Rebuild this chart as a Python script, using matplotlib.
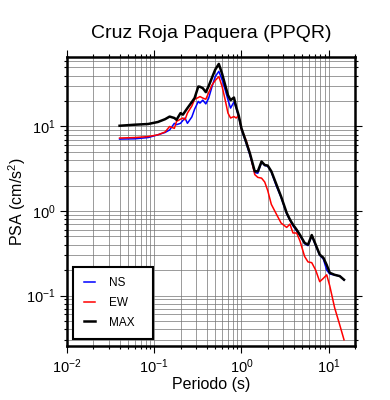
import numpy as np
import matplotlib
matplotlib.use("Agg")
import matplotlib.pyplot as plt
from matplotlib.ticker import LogLocator, LogFormatterMathtext, NullFormatter

plt.rcParams['font.family'] = ['Liberation Sans', 'DejaVu Sans']
plt.rcParams['mathtext.fontset'] = 'custom'
plt.rcParams['mathtext.rm'] = 'Liberation Sans'
plt.rcParams['mathtext.it'] = 'Liberation Sans:italic'

# Periods (s) and spectral values (cm/s^2)
periods = [0.04, 0.06, 0.085, 0.11, 0.133, 0.15, 0.17, 0.18, 0.2, 0.213,
           0.225, 0.24, 0.27, 0.29, 0.32, 0.334, 0.36, 0.39, 0.42, 0.46,
           0.5, 0.55, 0.6, 0.65, 0.7, 0.75, 0.82, 0.87, 0.93, 1.0,
           1.14, 1.25, 1.42, 1.54, 1.7, 1.85, 2.0, 2.2, 2.5, 2.85,
           3.3, 3.6, 3.9, 4.3, 4.7, 5.3, 5.8, 6.4, 7.1, 7.9,
           8.7, 9.5, 10.3, 11.7, 13.4, 15.0]

ns = [7.1, 7.15, 7.4, 7.97, 8.5, 9.1, 10.9, 10.5, 10.9, 11.8,
      12.6, 10.9, 13.0, 16.0, 19.8, 18.9, 20.5, 18.5, 21.5, 29.7,
      38.9, 44.9, 35.6, 27.2, 20.7, 16.5, 19.5, 16.5, 13.0, 9.3,
      6.2, 4.6, 2.85, 2.8, 3.8, 3.45, 3.4, 2.9, 2.0, 1.45,
      0.93, 0.78, 0.67, 0.58, 0.51, 0.41, 0.39, 0.51, 0.39, 0.30,
      0.27, 0.20, 0.18, 0.175, 0.17, 0.153]

ew = [7.3, 7.4, 7.6, 7.97, 8.6, 10.0, 9.5, 11.5, 12.2, 12.6,
      12.0, 14.4, 17.5, 21.0, 22.0, 22.6, 21.7, 21.0, 25.0, 31.0,
      35.0, 38.9, 29.7, 20.7, 14.4, 12.6, 13.1, 12.6, 13.5, 9.3,
      6.7, 4.8, 2.7, 2.5, 2.45, 2.2, 1.75, 1.2, 0.93, 0.72,
      0.64, 0.70, 0.55, 0.55, 0.44, 0.29, 0.25, 0.245, 0.20, 0.146,
      0.16, 0.176, 0.13, 0.072, 0.045, 0.03]

mx = [10.2, 10.5, 10.7, 11.3, 12.2, 13.1, 12.6, 12.0, 14.4, 13.8,
      15.0, 16.5, 19.5, 21.7, 29.7, 29.5, 28.4, 25.5, 30.0, 38.0,
      47.0, 55.0, 42.0, 31.0, 23.5, 20.5, 22.0, 17.0, 13.5, 9.5,
      6.4, 4.8, 2.95, 2.95, 3.85, 3.5, 3.45, 2.95, 2.1, 1.48,
      0.95, 0.79, 0.69, 0.60, 0.52, 0.42, 0.40, 0.52, 0.40, 0.305,
      0.28, 0.23, 0.186, 0.176, 0.17, 0.154]

fig = plt.figure(figsize=(3.9, 4.0), dpi=100)
ax = fig.add_axes([0.172, 0.136, 0.738, 0.721])

ax.plot(periods, ns, color='blue', lw=1.1, label='NS')
ax.plot(periods, ew, color='red', lw=1.1, label='EW')
ax.plot(periods, mx, color='black', lw=1.8, label='MAX')

ax.set_xscale('log')
ax.set_yscale('log')
ax.set_xlim(0.01, 20)
ax.set_ylim(0.0256, 66)

for axis in (ax.xaxis, ax.yaxis):
    axis.set_major_locator(LogLocator(base=10, numticks=10))
    axis.set_minor_locator(LogLocator(base=10, subs=np.arange(2, 10), numticks=10))
    axis.set_major_formatter(LogFormatterMathtext())
    axis.set_minor_formatter(NullFormatter())

ax.grid(True, which='both', color='0.45', lw=0.5)
ax.set_axisbelow(True)
ax.tick_params(which='both', direction='out', top=True, right=True,
               labelsize=10.5, width=0.8)
ax.tick_params(which='major', length=5)
ax.tick_params(which='minor', length=2.5)
for sp in ax.spines.values():
    sp.set_linewidth(1.8)

ax.set_xlabel('Periodo (s)', fontsize=11.5, labelpad=1)
ax.set_ylabel('PSA (cm/s$^2$)', fontsize=11.5, labelpad=-1.5)
ax.set_title('Cruz Roja Paquera (PPQR)', fontsize=14, pad=14)

leg = ax.legend(loc='lower left', bbox_to_anchor=(0.022, 0.022, 0.278, 0.2),
                mode='expand', borderaxespad=0,
                fancybox=False, framealpha=1, edgecolor='black', fontsize=8.5,
                handlelength=0.9, handletextpad=1.2, borderpad=0.9,
                labelspacing=0.65)
leg.get_frame().set_linewidth(1.5)

fig.savefig('out.png', dpi=100)
